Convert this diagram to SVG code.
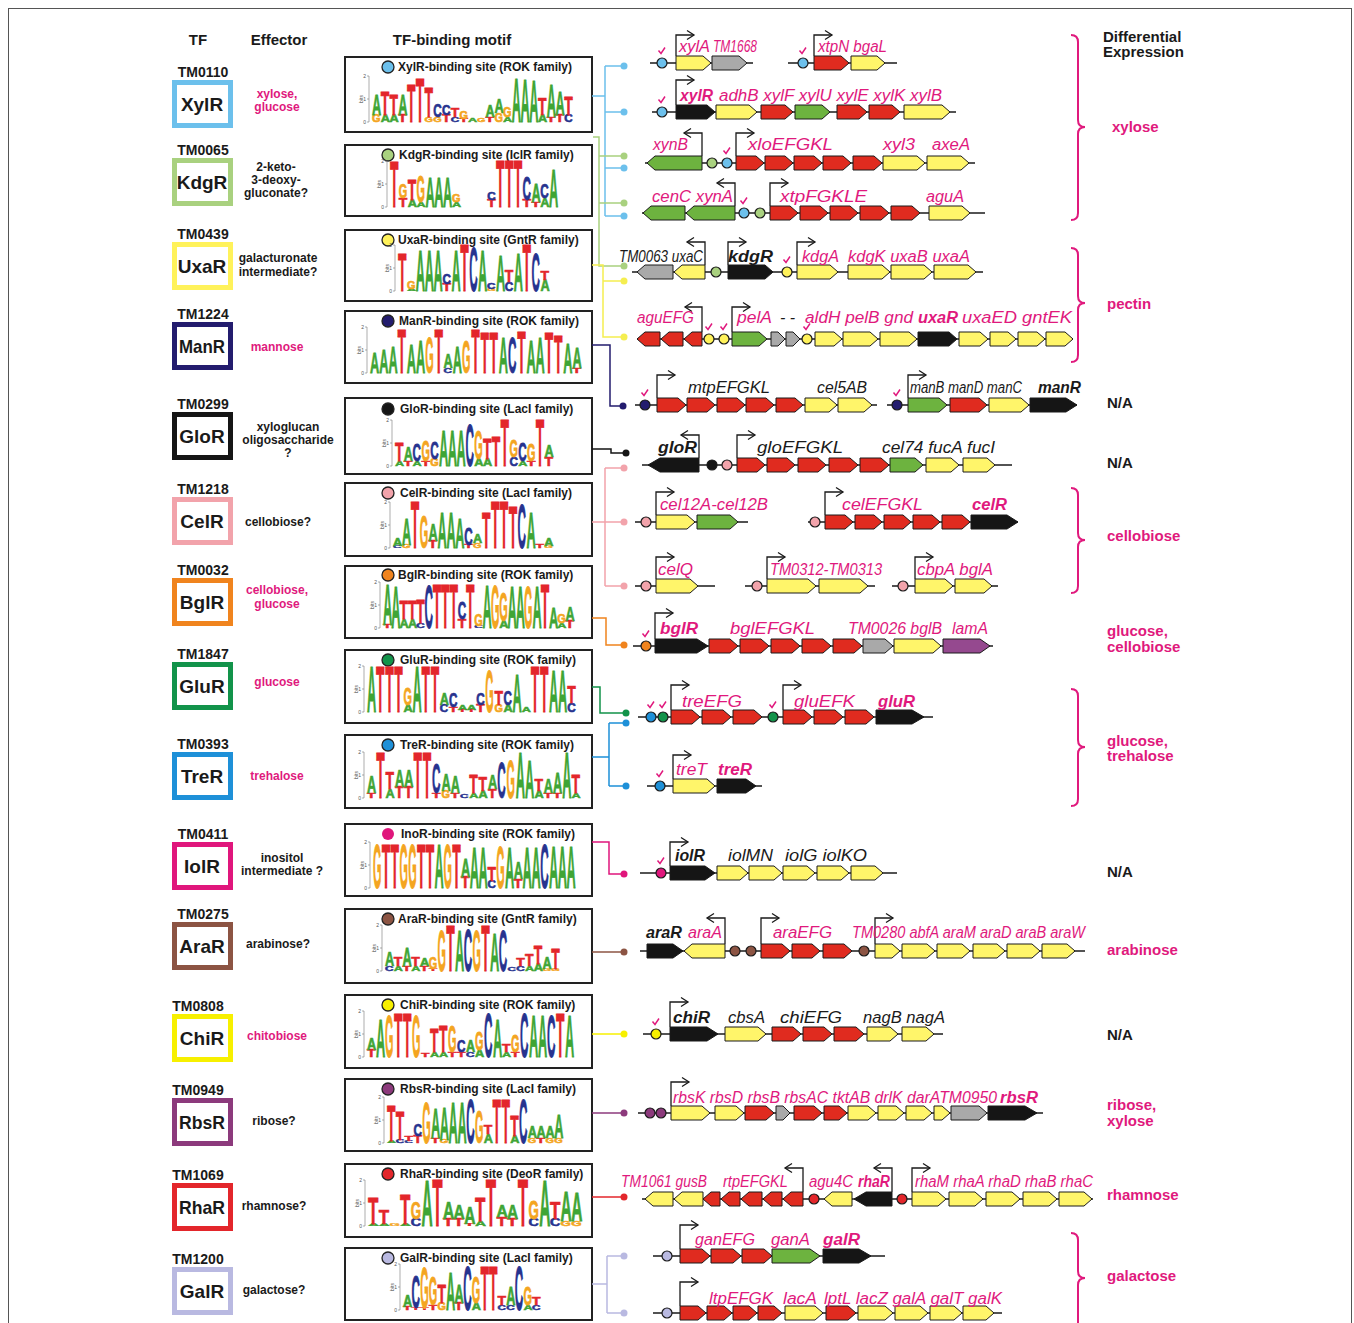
<svg xmlns="http://www.w3.org/2000/svg" xmlns:xlink="http://www.w3.org/1999/xlink" width="1354" height="1323" viewBox="0 0 1354 1323">
<style>
text{font-family:"Liberation Sans",Arial,sans-serif}
.hd{font-size:15px;font-weight:bold;fill:#1a1a1a}
.tm{font-size:14px;font-weight:bold;text-anchor:middle;fill:#1a1a1a}
.nm{font-size:19px;font-weight:bold;text-anchor:middle;fill:#1a1a1a}
.ef{font-size:12px;font-weight:bold;text-anchor:middle;fill:#1a1a1a}
.efm{fill:#e0197d}
.tfb{fill:#fff;stroke-width:5}
.mb{fill:#fff;stroke:#222;stroke-width:2}
.mt{font-size:12px;font-weight:bold;fill:#1a1a1a}
.mc{stroke:#222;stroke-width:1.3}
.lg text{font-size:14.5px;font-weight:bold;stroke-width:.6;vector-effect:non-scaling-stroke}
.a{fill:#3fa535;stroke:#3fa535}.c{fill:#27338f;stroke:#27338f}.g{fill:#f4a521;stroke:#f4a521}.t{fill:#e3262b;stroke:#e3262b}
.ax{stroke:#777;stroke-width:.6;fill:none}
.axt{font-size:5px;fill:#555;text-anchor:end}
.dna{stroke:#1a1a1a;stroke-width:1.5;fill:none}
polygon{stroke:#1a1a1a;stroke-width:1}
.fr{fill:#e02b1f}.fy{fill:#fff56a}.fg{fill:#6db33f}.fk{fill:#151515}.fs{fill:#a9a9a9}.fp{fill:#95498f}
.pr{stroke:#1a1a1a;stroke-width:1.3;fill:none;marker-end:url(#pa)}
.bs{stroke:#1a1a1a;stroke-width:1.2}
.ck{stroke:#e0197d;stroke-width:1.5;fill:none}
.gl{font-size:16px;font-style:italic;fill:#e0197d}
.glk{fill:#1a1a1a}
.b{font-weight:bold}
.cn{fill:none;stroke-width:1.5}
.de{font-size:15px;font-weight:bold;fill:#e0197d}
.na{fill:#1a1a1a}
.br{fill:none;stroke:#e0197d;stroke-width:2}
</style>
<defs>
<marker id="pa" markerUnits="userSpaceOnUse" markerWidth="10" markerHeight="10" refX="7" refY="4.5" orient="auto" overflow="visible"><path d="M0,0 L7,4.5 L0,9" fill="none" stroke="#1a1a1a" stroke-width="1.3"/></marker>
<path id="ck" class="ck" d="M-3.5,-12.5 l2.5,3 l4,-6"/>
<g id="ax"><path class="ax" d="M-3,0 V-46 M-5,0 H-3 M-5,-23 H-3 M-5,-46 H-3"/><text class="axt" x="-6" y="1.5">0</text><text class="axt" x="-6" y="-21.5">1</text><text class="axt" x="-6" y="-44.5">2</text><text class="axt" transform="translate(-9,-23) rotate(-90)" style="text-anchor:middle">bits</text></g>
</defs>
<rect x="0" y="0" width="1354" height="1323" fill="#fff"/>
<rect x="8.5" y="8.5" width="1343" height="1340" fill="none" stroke="#555" stroke-width="1"/>

<g id="headers">
<text class="hd" x="198" y="45" text-anchor="middle">TF</text>
<text class="hd" x="279" y="45" text-anchor="middle">Effector</text>
<text class="hd" x="452" y="45" text-anchor="middle">TF-binding motif</text>
<text class="hd" x="1103" y="42">Differential</text>
<text class="hd" x="1103" y="57">Expression</text>
</g>

<!-- TF nodes -->
<g id="tf-xylr"><text class="tm" x="203" y="77">TM0110</text><rect class="tfb" x="174.5" y="82.5" width="56" height="43" stroke="#6cc0ec"/><text class="nm" x="202" y="111">XylR</text><text class="ef efm" x="277" y="98">xylose,</text><text class="ef efm" x="277" y="111">glucose</text></g>
<g id="tf-kdgr"><text class="tm" x="203" y="155">TM0065</text><rect class="tfb" x="174.5" y="160.5" width="56" height="43" stroke="#a9d17f"/><text class="nm" x="202" y="189">KdgR</text><text class="ef" x="276" y="171">2-keto-</text><text class="ef" x="276" y="184">3-deoxy-</text><text class="ef" x="276" y="197">gluconate?</text></g>
<g id="tf-uxar"><text class="tm" x="203" y="239">TM0439</text><rect class="tfb" x="174.5" y="244.5" width="56" height="43" stroke="#fff25a"/><text class="nm" x="202" y="273">UxaR</text><text class="ef" x="278" y="262">galacturonate</text><text class="ef" x="278" y="276">intermediate?</text></g>
<g id="tf-manr"><text class="tm" x="203" y="319">TM1224</text><rect class="tfb" x="174.5" y="324.5" width="56" height="43" stroke="#231c6e"/><text class="nm" x="202" y="353" textLength="46" lengthAdjust="spacingAndGlyphs">ManR</text><text class="ef efm" x="277" y="351">mannose</text></g>
<g id="tf-glor"><text class="tm" x="203" y="409">TM0299</text><rect class="tfb" x="174.5" y="414.5" width="56" height="43" stroke="#151515"/><text class="nm" x="202" y="443">GloR</text><text class="ef" x="288" y="431">xyloglucan</text><text class="ef" x="288" y="444">oligosaccharide</text><text class="ef" x="288" y="457">?</text></g>
<g id="tf-celr"><text class="tm" x="203" y="494">TM1218</text><rect class="tfb" x="174.5" y="499.5" width="56" height="43" stroke="#f2a3ab"/><text class="nm" x="202" y="528">CelR</text><text class="ef" x="278" y="526">cellobiose?</text></g>
<g id="tf-bglr"><text class="tm" x="203" y="575">TM0032</text><rect class="tfb" x="174.5" y="580.5" width="56" height="43" stroke="#f0841e"/><text class="nm" x="202" y="609">BglR</text><text class="ef efm" x="277" y="594">cellobiose,</text><text class="ef efm" x="277" y="608">glucose</text></g>
<g id="tf-glur"><text class="tm" x="203" y="659">TM1847</text><rect class="tfb" x="174.5" y="664.5" width="56" height="43" stroke="#12934a"/><text class="nm" x="202" y="693">GluR</text><text class="ef efm" x="277" y="686">glucose</text></g>
<g id="tf-trer"><text class="tm" x="203" y="749">TM0393</text><rect class="tfb" x="174.5" y="754.5" width="56" height="43" stroke="#1e90d8"/><text class="nm" x="202" y="783">TreR</text><text class="ef efm" x="277" y="780">trehalose</text></g>
<g id="tf-iolr"><text class="tm" x="203" y="839">TM0411</text><rect class="tfb" x="174.5" y="844.5" width="56" height="43" stroke="#e0167c"/><text class="nm" x="202" y="873">IolR</text><text class="ef" x="282" y="862">inositol</text><text class="ef" x="282" y="875">intermediate ?</text></g>
<g id="tf-arar"><text class="tm" x="203" y="919">TM0275</text><rect class="tfb" x="174.5" y="924.5" width="56" height="43" stroke="#8c5443"/><text class="nm" x="202" y="953">AraR</text><text class="ef" x="278" y="948">arabinose?</text></g>
<g id="tf-chir"><text class="tm" x="198" y="1011">TM0808</text><rect class="tfb" x="174.5" y="1016.5" width="56" height="43" stroke="#f7f000"/><text class="nm" x="202" y="1045">ChiR</text><text class="ef efm" x="277" y="1040">chitobiose</text></g>
<g id="tf-rbsr"><text class="tm" x="198" y="1095">TM0949</text><rect class="tfb" x="174.5" y="1100.5" width="56" height="43" stroke="#8c3a7c"/><text class="nm" x="202" y="1129" textLength="46" lengthAdjust="spacingAndGlyphs">RbsR</text><text class="ef" x="274" y="1125">ribose?</text></g>
<g id="tf-rhar"><text class="tm" x="198" y="1180">TM1069</text><rect class="tfb" x="174.5" y="1185.5" width="56" height="43" stroke="#e3262b"/><text class="nm" x="202" y="1214" textLength="46" lengthAdjust="spacingAndGlyphs">RhaR</text><text class="ef" x="274" y="1210">rhamnose?</text></g>
<g id="tf-galr"><text class="tm" x="198" y="1264">TM1200</text><rect class="tfb" x="174.5" y="1269.5" width="56" height="43" stroke="#b9b9e1"/><text class="nm" x="202" y="1298">GalR</text><text class="ef" x="274" y="1294">galactose?</text></g>

<!-- Motif nodes -->
<g id="motif-xylr"><rect class="mb" x="345" y="57" width="247" height="75"/><circle class="mc" cx="388" cy="67" r="6" fill="#6cc0ec"/><text class="mt" x="398" y="71">XylR-binding site (ROK family)</text>
<g class="lg" transform="translate(372,122)"><use href="#ax"/>
<text class="g" transform="matrix(.75 0 0 .69 0 0)">G</text><text class="a" transform="matrix(.88 0 0 2.07 0 -6.9)">A</text>
<text class="a" transform="matrix(.88 0 0 .69 8.7 0)">A</text><text class="t" transform="matrix(.96 0 0 2.3 8.7 -6.9)">T</text>
<text class="a" transform="matrix(.88 0 0 .69 17.5 0)">A</text><text class="t" transform="matrix(.96 0 0 2.07 17.5 -6.9)">T</text>
<text class="t" transform="matrix(.96 0 0 .69 26.2 0)">T</text><text class="a" transform="matrix(.88 0 0 2.07 26.2 -6.9)">A</text>
<text class="t" transform="matrix(.96 0 0 3.68 35 0)">T</text>
<text class="t" transform="matrix(.96 0 0 4.37 43.7 0)">T</text>
<text class="g" transform="matrix(.75 0 0 .46 52.4 0)">G</text><text class="t" transform="matrix(.96 0 0 2.99 52.4 -4.6)">T</text>
<text class="g" transform="matrix(.75 0 0 .46 61.2 0)">G</text><text class="c" transform="matrix(.81 0 0 1.27 61.2 -4.6)">C</text>
<text class="t" transform="matrix(.96 0 0 .69 69.9 0)">T</text><text class="c" transform="matrix(.81 0 0 1.04 69.9 -6.9)">C</text>
<text class="c" transform="matrix(.81 0 0 .46 78.7 0)">C</text><text class="t" transform="matrix(.96 0 0 .92 78.7 -4.6)">T</text>
<text class="t" transform="matrix(.96 0 0 .35 87.4 0)">T</text><text class="g" transform="matrix(.75 0 0 .69 87.4 -3.5)">G</text>
<text class="a" transform="matrix(.88 0 0 .35 96.1 0)">A</text>
<text class="g" transform="matrix(.75 0 0 .35 104.9 0)">G</text>
<text class="t" transform="matrix(.96 0 0 .46 113.6 0)">T</text><text class="a" transform="matrix(.88 0 0 1.15 113.6 -4.6)">A</text>
<text class="g" transform="matrix(.75 0 0 .92 122.4 0)">G</text><text class="a" transform="matrix(.88 0 0 1.38 122.4 -9.2)">A</text>
<text class="a" transform="matrix(.88 0 0 .46 131.1 0)">A</text><text class="g" transform="matrix(.75 0 0 1.04 131.1 -4.6)">G</text>
<text class="a" transform="matrix(.88 0 0 4.37 139.8 0)">A</text>
<text class="a" transform="matrix(.88 0 0 4.26 148.6 0)">A</text>
<text class="a" transform="matrix(.88 0 0 4.14 157.3 0)">A</text>
<text class="a" transform="matrix(.88 0 0 .69 166.1 0)">A</text><text class="t" transform="matrix(.96 0 0 1.61 166.1 -6.9)">T</text>
<text class="t" transform="matrix(.96 0 0 .46 174.8 0)">T</text><text class="a" transform="matrix(.88 0 0 3.22 174.8 -4.6)">A</text>
<text class="t" transform="matrix(.96 0 0 .69 183.5 0)">T</text><text class="a" transform="matrix(.88 0 0 2.3 183.5 -6.9)">A</text>
<text class="c" transform="matrix(.81 0 0 .69 192.3 0)">C</text><text class="t" transform="matrix(.96 0 0 1.84 192.3 -6.9)">T</text>
</g></g>

<g id="motif-kdgr"><rect class="mb" x="345" y="145" width="247" height="71"/><circle class="mc" cx="388" cy="155" r="6" fill="#a9d17f"/><text class="mt" x="399" y="159">KdgR-binding site (IclR family)</text>
<g class="lg" transform="translate(390,207)"><use href="#ax"/>
<text class="t" transform="matrix(.96 0 0 4.49 0 0)">T</text>
<text class="t" transform="matrix(.96 0 0 .92 8.8 0)">T</text><text class="g" transform="matrix(.75 0 0 1.38 8.8 -9.2)">G</text>
<text class="a" transform="matrix(.88 0 0 .69 17.7 0)">A</text><text class="t" transform="matrix(.96 0 0 2.07 17.7 -6.9)">T</text>
<text class="a" transform="matrix(.88 0 0 .46 26.5 0)">A</text><text class="g" transform="matrix(.75 0 0 2.53 26.5 -4.6)">G</text>
<text class="a" transform="matrix(.88 0 0 2.99 35.4 0)">A</text>
<text class="a" transform="matrix(.88 0 0 2.99 44.2 0)">A</text>
<text class="a" transform="matrix(.88 0 0 2.99 53 0)">A</text>
<text class="a" transform="matrix(.88 0 0 .46 61.9 0)">A</text><text class="g" transform="matrix(.75 0 0 .69 61.9 -4.6)">G</text>
<text class="t" transform="matrix(.96 0 0 .69 97.2 0)">T</text><text class="c" transform="matrix(.81 0 0 .69 97.2 -6.9)">C</text>
<text class="t" transform="matrix(.96 0 0 4.6 106.1 0)">T</text>
<text class="t" transform="matrix(.96 0 0 4.6 114.9 0)">T</text>
<text class="t" transform="matrix(.96 0 0 4.6 123.8 0)">T</text>
<text class="t" transform="matrix(.96 0 0 .69 132.6 0)">T</text><text class="c" transform="matrix(.81 0 0 2.3 132.6 -6.9)">C</text>
<text class="t" transform="matrix(.96 0 0 .46 141.4 0)">T</text><text class="a" transform="matrix(.88 0 0 1.84 141.4 -4.6)">A</text>
<text class="a" transform="matrix(.88 0 0 .92 150.3 0)">A</text><text class="c" transform="matrix(.81 0 0 1.38 150.3 -9.2)">C</text>
<text class="a" transform="matrix(.88 0 0 3.68 159.1 0)">A</text>
</g></g>

<g id="motif-uxar"><rect class="mb" x="345" y="230" width="247" height="71"/><circle class="mc" cx="388" cy="240" r="6" fill="#fff25a"/><text class="mt" x="398" y="244">UxaR-binding site (GntR family)</text>
<g class="lg" transform="translate(398,291)"><use href="#ax"/>
<text class="t" transform="matrix(.96 0 0 3.68 0 0)">T</text>
<text class="a" transform="matrix(.88 0 0 .23 8.9 0)">A</text><text class="g" transform="matrix(.75 0 0 .81 8.9 -2.3)">G</text>
<text class="a" transform="matrix(.88 0 0 3.91 17.8 0)">A</text>
<text class="a" transform="matrix(.88 0 0 3.91 26.7 0)">A</text>
<text class="a" transform="matrix(.88 0 0 3.91 35.6 0)">A</text>
<text class="t" transform="matrix(.96 0 0 .69 44.5 0)">T</text><text class="c" transform="matrix(.81 0 0 1.04 44.5 -6.9)">C</text>
<text class="a" transform="matrix(.88 0 0 3.91 53.4 0)">A</text>
<text class="t" transform="matrix(.96 0 0 4.6 62.3 0)">T</text>
<text class="c" transform="matrix(.81 0 0 4.37 71.2 0)">C</text>
<text class="a" transform="matrix(.88 0 0 3.91 80.1 0)">A</text>
<text class="g" transform="matrix(.75 0 0 .23 89 0)">G</text><text class="c" transform="matrix(.81 0 0 .58 89 -2.3)">C</text>
<text class="a" transform="matrix(.88 0 0 3.45 97.9 0)">A</text>
<text class="c" transform="matrix(.81 0 0 .92 106.8 0)">C</text><text class="t" transform="matrix(.96 0 0 1.15 106.8 -9.2)">T</text>
<text class="a" transform="matrix(.88 0 0 3.68 115.7 0)">A</text>
<text class="t" transform="matrix(.96 0 0 4.6 124.6 0)">T</text>
<text class="c" transform="matrix(.81 0 0 3.68 133.5 0)">C</text>
<text class="a" transform="matrix(.88 0 0 1.15 142.4 0)">A</text><text class="t" transform="matrix(.96 0 0 .92 142.4 -11.5)">T</text>
</g></g>

<g id="motif-manr"><rect class="mb" x="345" y="311" width="247" height="72"/><circle class="mc" cx="388" cy="321" r="6" fill="#231c6e"/><text class="mt" x="399" y="325">ManR-binding site (ROK family)</text>
<g class="lg" transform="translate(370,373)"><use href="#ax"/>
<text class="a" transform="matrix(.88 0 0 2.07 0 0)">A</text>
<text class="a" transform="matrix(.88 0 0 2.3 9.2 0)">A</text>
<text class="a" transform="matrix(.88 0 0 2.53 18.4 0)">A</text>
<text class="t" transform="matrix(.96 0 0 4.37 27.6 0)">T</text>
<text class="a" transform="matrix(.88 0 0 2.76 36.8 0)">A</text>
<text class="a" transform="matrix(.88 0 0 3.22 46 0)">A</text>
<text class="g" transform="matrix(.75 0 0 3.45 55.2 0)">G</text>
<text class="t" transform="matrix(.96 0 0 4.37 64.4 0)">T</text>
<text class="c" transform="matrix(.81 0 0 .46 73.6 0)">C</text><text class="a" transform="matrix(.88 0 0 1.38 73.6 -4.6)">A</text>
<text class="a" transform="matrix(.88 0 0 2.53 82.8 0)">A</text>
<text class="g" transform="matrix(.75 0 0 3.22 92 0)">G</text>
<text class="t" transform="matrix(.96 0 0 4.37 101.2 0)">T</text>
<text class="t" transform="matrix(.96 0 0 3.91 110.4 0)">T</text>
<text class="t" transform="matrix(.96 0 0 3.91 119.6 0)">T</text>
<text class="a" transform="matrix(.88 0 0 3.45 128.8 0)">A</text>
<text class="c" transform="matrix(.81 0 0 3.45 138 0)">C</text>
<text class="t" transform="matrix(.96 0 0 4.14 147.2 0)">T</text>
<text class="a" transform="matrix(.88 0 0 3.22 156.4 0)">A</text>
<text class="a" transform="matrix(.88 0 0 3.45 165.6 0)">A</text>
<text class="t" transform="matrix(.96 0 0 3.91 174.8 0)">T</text>
<text class="t" transform="matrix(.96 0 0 3.68 184 0)">T</text>
<text class="a" transform="matrix(.88 0 0 2.99 193.2 0)">A</text>
<text class="t" transform="matrix(.96 0 0 .46 202.4 0)">T</text><text class="a" transform="matrix(.88 0 0 2.07 202.4 -4.6)">A</text>
</g></g>

<g id="motif-glor"><rect class="mb" x="345" y="398" width="247" height="76"/><circle class="mc" cx="388" cy="409" r="6" fill="#151515"/><text class="mt" x="400" y="413">GloR-binding site (LacI family)</text>
<g class="lg" transform="translate(395,466)"><use href="#ax"/>
<text class="a" transform="matrix(.88 0 0 .46 0 0)">A</text><text class="t" transform="matrix(.96 0 0 1.84 0 -4.6)">T</text>
<text class="t" transform="matrix(.96 0 0 .46 8.8 0)">T</text><text class="a" transform="matrix(.88 0 0 1.38 8.8 -4.6)">A</text>
<text class="a" transform="matrix(.88 0 0 .46 17.6 0)">A</text><text class="c" transform="matrix(.81 0 0 1.61 17.6 -4.6)">C</text>
<text class="t" transform="matrix(.96 0 0 .46 26.4 0)">T</text><text class="g" transform="matrix(.75 0 0 2.07 26.4 -4.6)">G</text>
<text class="g" transform="matrix(.75 0 0 .69 35.2 0)">G</text><text class="c" transform="matrix(.81 0 0 1.61 35.2 -6.9)">C</text>
<text class="a" transform="matrix(.88 0 0 3.45 44 0)">A</text>
<text class="a" transform="matrix(.88 0 0 3.45 52.8 0)">A</text>
<text class="a" transform="matrix(.88 0 0 3.45 61.6 0)">A</text>
<text class="c" transform="matrix(.81 0 0 4.14 70.4 0)">C</text>
<text class="a" transform="matrix(.88 0 0 .69 79.2 0)">A</text><text class="g" transform="matrix(.75 0 0 2.76 79.2 -6.9)">G</text>
<text class="a" transform="matrix(.88 0 0 .69 88 0)">A</text><text class="t" transform="matrix(.96 0 0 2.07 88 -6.9)">T</text>
<text class="t" transform="matrix(.96 0 0 2.99 96.8 0)">T</text>
<text class="t" transform="matrix(.96 0 0 4.6 105.6 0)">T</text>
<text class="c" transform="matrix(.81 0 0 .92 114.4 0)">C</text><text class="g" transform="matrix(.75 0 0 1.61 114.4 -9.2)">G</text>
<text class="a" transform="matrix(.88 0 0 .46 123.2 0)">A</text><text class="c" transform="matrix(.81 0 0 1.84 123.2 -4.6)">C</text>
<text class="t" transform="matrix(.96 0 0 .46 132 0)">T</text><text class="g" transform="matrix(.75 0 0 1.61 132 -4.6)">G</text>
<text class="t" transform="matrix(.96 0 0 4.6 140.8 0)">T</text>
<text class="t" transform="matrix(.96 0 0 .92 149.6 0)">T</text><text class="a" transform="matrix(.88 0 0 1.15 149.6 -9.2)">A</text>
</g></g>

<g id="motif-celr"><rect class="mb" x="345" y="483" width="247" height="73"/><circle class="mc" cx="388" cy="493" r="6" fill="#f2a3ab"/><text class="mt" x="400" y="497">CelR-binding site (LacI family)</text>
<g class="lg" transform="translate(393,548)"><use href="#ax"/>
<text class="c" transform="matrix(.81 0 0 .23 0 0)">C</text><text class="a" transform="matrix(.88 0 0 .69 0 -2.3)">A</text>
<text class="g" transform="matrix(.75 0 0 .35 8.9 0)">G</text><text class="a" transform="matrix(.88 0 0 2.53 8.9 -3.5)">A</text>
<text class="t" transform="matrix(.96 0 0 4.6 17.8 0)">T</text>
<text class="g" transform="matrix(.75 0 0 3.22 26.7 0)">G</text>
<text class="t" transform="matrix(.96 0 0 .69 35.6 0)">T</text><text class="a" transform="matrix(.88 0 0 1.61 35.6 -6.9)">A</text>
<text class="a" transform="matrix(.88 0 0 3.45 44.5 0)">A</text>
<text class="a" transform="matrix(.88 0 0 3.45 53.4 0)">A</text>
<text class="a" transform="matrix(.88 0 0 2.99 62.3 0)">A</text>
<text class="t" transform="matrix(.96 0 0 .35 71.2 0)">T</text><text class="c" transform="matrix(.81 0 0 1.61 71.2 -3.5)">C</text>
<text class="g" transform="matrix(.75 0 0 .46 80.1 0)">G</text><text class="a" transform="matrix(.88 0 0 .92 80.1 -4.6)">A</text>
<text class="t" transform="matrix(.96 0 0 3.45 89 0)">T</text>
<text class="t" transform="matrix(.96 0 0 4.6 97.9 0)">T</text>
<text class="t" transform="matrix(.96 0 0 4.6 106.8 0)">T</text>
<text class="t" transform="matrix(.96 0 0 4.14 115.7 0)">T</text>
<text class="c" transform="matrix(.81 0 0 4.37 124.6 0)">C</text>
<text class="a" transform="matrix(.88 0 0 3.45 133.5 0)">A</text>
<text class="t" transform="matrix(.96 0 0 .35 142.4 0)">T</text>
<text class="g" transform="matrix(.75 0 0 .23 151.3 0)">G</text><text class="a" transform="matrix(.88 0 0 .69 151.3 -2.3)">A</text>
</g></g>

<g id="motif-bglr"><rect class="mb" x="345" y="566" width="247" height="72"/><circle class="mc" cx="388" cy="575" r="6" fill="#f0841e"/><text class="mt" x="398" y="579">BglR-binding site (ROK family)</text>
<g class="lg" transform="translate(383,628)"><use href="#ax"/>
<text class="t" transform="matrix(.96 0 0 .35 0 0)">T</text><text class="a" transform="matrix(.88 0 0 3.91 0 -3.5)">A</text>
<text class="a" transform="matrix(.88 0 0 4.14 8.3 0)">A</text>
<text class="a" transform="matrix(.88 0 0 .92 16.6 0)">A</text><text class="t" transform="matrix(.96 0 0 1.84 16.6 -9.2)">T</text>
<text class="a" transform="matrix(.88 0 0 .92 24.9 0)">A</text><text class="t" transform="matrix(.96 0 0 1.84 24.9 -9.2)">T</text>
<text class="c" transform="matrix(.81 0 0 .46 33.2 0)">C</text><text class="t" transform="matrix(.96 0 0 2.3 33.2 -4.6)">T</text>
<text class="c" transform="matrix(.81 0 0 4.2 41.5 0)">C</text>
<text class="t" transform="matrix(.96 0 0 4.4 49.8 0)">T</text>
<text class="t" transform="matrix(.96 0 0 4.4 58.1 0)">T</text>
<text class="t" transform="matrix(.96 0 0 4.4 66.4 0)">T</text>
<text class="t" transform="matrix(.96 0 0 .92 74.7 0)">T</text><text class="c" transform="matrix(.81 0 0 1.61 74.7 -9.2)">C</text>
<text class="t" transform="matrix(.96 0 0 4.4 83 0)">T</text>
<text class="c" transform="matrix(.81 0 0 .23 91.3 0)">C</text><text class="g" transform="matrix(.75 0 0 1.15 91.3 -2.3)">G</text>
<text class="a" transform="matrix(.88 0 0 4.2 99.6 0)">A</text>
<text class="g" transform="matrix(.75 0 0 4.2 107.9 0)">G</text>
<text class="a" transform="matrix(.88 0 0 .69 116.2 0)">A</text><text class="g" transform="matrix(.75 0 0 2.76 116.2 -6.9)">G</text>
<text class="a" transform="matrix(.88 0 0 4.14 124.5 0)">A</text>
<text class="a" transform="matrix(.88 0 0 4.14 132.8 0)">A</text>
<text class="g" transform="matrix(.75 0 0 4.14 141.1 0)">G</text>
<text class="a" transform="matrix(.88 0 0 4.14 149.4 0)">A</text>
<text class="t" transform="matrix(.96 0 0 4.4 157.7 0)">T</text>
<text class="a" transform="matrix(.88 0 0 2.07 166 0)">A</text>
<text class="a" transform="matrix(.88 0 0 .46 174.3 0)">A</text><text class="g" transform="matrix(.75 0 0 .92 174.3 -4.6)">G</text>
<text class="t" transform="matrix(.96 0 0 .69 182.6 0)">T</text><text class="a" transform="matrix(.88 0 0 1.38 182.6 -6.9)">A</text>
</g></g>

<g id="motif-glur"><rect class="mb" x="345" y="650" width="247" height="73"/><circle class="mc" cx="388" cy="660" r="6" fill="#12934a"/><text class="mt" x="400" y="664">GluR-binding site (ROK family)</text>
<g class="lg" transform="translate(367,712)"><use href="#ax"/>
<text class="a" transform="matrix(.88 0 0 4.5 0 0)">A</text>
<text class="t" transform="matrix(.96 0 0 4.5 9.1 0)">T</text>
<text class="t" transform="matrix(.96 0 0 4.5 18.2 0)">T</text>
<text class="t" transform="matrix(.96 0 0 4.5 27.3 0)">T</text>
<text class="a" transform="matrix(.88 0 0 .69 36.4 0)">A</text><text class="g" transform="matrix(.75 0 0 1.61 36.4 -6.9)">G</text>
<text class="a" transform="matrix(.88 0 0 4.5 45.5 0)">A</text>
<text class="t" transform="matrix(.96 0 0 4.5 54.6 0)">T</text>
<text class="t" transform="matrix(.96 0 0 4.5 63.7 0)">T</text>
<text class="c" transform="matrix(.81 0 0 .69 72.8 0)">C</text><text class="a" transform="matrix(.88 0 0 1.15 72.8 -6.9)">A</text>
<text class="t" transform="matrix(.96 0 0 .46 81.9 0)">T</text><text class="c" transform="matrix(.81 0 0 1.38 81.9 -4.6)">C</text>
<text class="t" transform="matrix(.96 0 0 .23 91 0)">T</text><text class="a" transform="matrix(.88 0 0 .46 91 -2.3)">A</text>
<text class="t" transform="matrix(.96 0 0 .23 100.1 0)">T</text><text class="a" transform="matrix(.88 0 0 .46 100.1 -2.3)">A</text>
<text class="t" transform="matrix(.96 0 0 .69 109.2 0)">T</text><text class="c" transform="matrix(.81 0 0 1.15 109.2 -6.9)">C</text>
<text class="g" transform="matrix(.75 0 0 4.14 118.3 0)">G</text>
<text class="g" transform="matrix(.75 0 0 .69 127.4 0)">G</text><text class="t" transform="matrix(.96 0 0 1.38 127.4 -6.9)">T</text>
<text class="a" transform="matrix(.88 0 0 .69 136.5 0)">A</text><text class="c" transform="matrix(.81 0 0 1.38 136.5 -6.9)">C</text>
<text class="a" transform="matrix(.88 0 0 3.68 145.6 0)">A</text>
<text class="a" transform="matrix(.88 0 0 .46 154.7 0)">A</text>
<text class="t" transform="matrix(.96 0 0 4.5 163.8 0)">T</text>
<text class="t" transform="matrix(.96 0 0 4.5 172.9 0)">T</text>
<text class="a" transform="matrix(.88 0 0 4.14 182 0)">A</text>
<text class="a" transform="matrix(.88 0 0 4.14 191.1 0)">A</text>
<text class="c" transform="matrix(.81 0 0 .92 200.2 0)">C</text><text class="t" transform="matrix(.96 0 0 1.61 200.2 -9.2)">T</text>
</g></g>

<g id="motif-trer"><rect class="mb" x="345" y="735" width="247" height="73"/><circle class="mc" cx="388" cy="745" r="6" fill="#1e90d8"/><text class="mt" x="400" y="749">TreR-binding site (ROK family)</text>
<g class="lg" transform="translate(367,798)"><use href="#ax"/>
<text class="t" transform="matrix(.96 0 0 .46 0 0)">T</text><text class="a" transform="matrix(.88 0 0 1.61 0 -4.6)">A</text>
<text class="t" transform="matrix(.96 0 0 4.5 9.3 0)">T</text>
<text class="a" transform="matrix(.88 0 0 .92 18.6 0)">A</text><text class="t" transform="matrix(.96 0 0 1.61 18.6 -9.2)">T</text>
<text class="t" transform="matrix(.96 0 0 1.15 27.9 0)">T</text><text class="a" transform="matrix(.88 0 0 1.61 27.9 -11.5)">A</text>
<text class="t" transform="matrix(.96 0 0 1.15 37.2 0)">T</text><text class="a" transform="matrix(.88 0 0 1.61 37.2 -11.5)">A</text>
<text class="t" transform="matrix(.96 0 0 4.5 46.5 0)">T</text>
<text class="t" transform="matrix(.96 0 0 4.5 55.8 0)">T</text>
<text class="t" transform="matrix(.96 0 0 .46 65.1 0)">T</text><text class="c" transform="matrix(.81 0 0 2.99 65.1 -4.6)">C</text>
<text class="g" transform="matrix(.75 0 0 .69 74.4 0)">G</text><text class="a" transform="matrix(.88 0 0 1.61 74.4 -6.9)">A</text>
<text class="t" transform="matrix(.96 0 0 .46 83.7 0)">T</text><text class="a" transform="matrix(.88 0 0 1.61 83.7 -4.6)">A</text>
<text class="c" transform="matrix(.81 0 0 .35 93 0)">C</text>
<text class="a" transform="matrix(.88 0 0 .46 102.3 0)">A</text><text class="t" transform="matrix(.96 0 0 1.84 102.3 -4.6)">T</text>
<text class="a" transform="matrix(.88 0 0 .69 111.6 0)">A</text><text class="t" transform="matrix(.96 0 0 1.38 111.6 -6.9)">T</text>
<text class="t" transform="matrix(.96 0 0 .92 120.9 0)">T</text><text class="a" transform="matrix(.88 0 0 1.38 120.9 -9.2)">A</text>
<text class="c" transform="matrix(.81 0 0 3.45 130.2 0)">C</text>
<text class="g" transform="matrix(.75 0 0 3.68 139.5 0)">G</text>
<text class="a" transform="matrix(.88 0 0 4.5 148.8 0)">A</text>
<text class="a" transform="matrix(.88 0 0 3.68 158.1 0)">A</text>
<text class="a" transform="matrix(.88 0 0 .69 167.4 0)">A</text><text class="t" transform="matrix(.96 0 0 1.15 167.4 -6.9)">T</text>
<text class="t" transform="matrix(.96 0 0 .46 176.7 0)">T</text><text class="a" transform="matrix(.88 0 0 1.38 176.7 -4.6)">A</text>
<text class="t" transform="matrix(.96 0 0 .46 186 0)">T</text><text class="a" transform="matrix(.88 0 0 2.07 186 -4.6)">A</text>
<text class="a" transform="matrix(.88 0 0 4.5 195.3 0)">A</text>
<text class="a" transform="matrix(.88 0 0 .46 204.6 0)">A</text><text class="t" transform="matrix(.96 0 0 1.84 204.6 -4.6)">T</text>
</g></g>

<g id="motif-iolr"><rect class="mb" x="345" y="824" width="247" height="72"/><circle cx="388" cy="834" r="6" fill="#e0167c"/><text class="mt" x="401" y="838">InoR-binding site (ROK family)</text>
<g class="lg" transform="translate(373,888)"><use href="#ax"/>
<text class="g" transform="matrix(.75 0 0 4.3 0 0)">G</text>
<text class="t" transform="matrix(.96 0 0 4.4 8.8 0)">T</text>
<text class="t" transform="matrix(.96 0 0 4.4 17.6 0)">T</text>
<text class="g" transform="matrix(.75 0 0 4.3 26.4 0)">G</text>
<text class="g" transform="matrix(.75 0 0 4.3 35.2 0)">G</text>
<text class="t" transform="matrix(.96 0 0 4.4 44 0)">T</text>
<text class="t" transform="matrix(.96 0 0 4.4 52.8 0)">T</text>
<text class="a" transform="matrix(.88 0 0 4.3 61.6 0)">A</text>
<text class="g" transform="matrix(.75 0 0 4.3 70.4 0)">G</text>
<text class="t" transform="matrix(.96 0 0 4.4 79.2 0)">T</text>
<text class="t" transform="matrix(.96 0 0 1.15 88 0)">T</text><text class="a" transform="matrix(.88 0 0 1.84 88 -11.5)">A</text>
<text class="a" transform="matrix(.88 0 0 3.91 96.8 0)">A</text>
<text class="a" transform="matrix(.88 0 0 3.91 105.6 0)">A</text>
<text class="c" transform="matrix(.81 0 0 .69 114.4 0)">C</text><text class="t" transform="matrix(.96 0 0 1.38 114.4 -6.9)">T</text>
<text class="g" transform="matrix(.75 0 0 4.14 123.2 0)">G</text>
<text class="a" transform="matrix(.88 0 0 3.91 132 0)">A</text>
<text class="t" transform="matrix(.96 0 0 .92 140.8 0)">T</text><text class="a" transform="matrix(.88 0 0 1.61 140.8 -9.2)">A</text>
<text class="a" transform="matrix(.88 0 0 3.91 149.6 0)">A</text>
<text class="a" transform="matrix(.88 0 0 3.91 158.4 0)">A</text>
<text class="c" transform="matrix(.81 0 0 4.3 167.2 0)">C</text>
<text class="a" transform="matrix(.88 0 0 4.14 176 0)">A</text>
<text class="a" transform="matrix(.88 0 0 4.14 184.8 0)">A</text>
<text class="a" transform="matrix(.88 0 0 4.14 193.6 0)">A</text>
</g></g>

<g id="motif-arar"><rect class="mb" x="345" y="909" width="247" height="74"/><circle class="mc" cx="388" cy="919" r="6" fill="#8c5443"/><text class="mt" x="398" y="923">AraR-binding site (GntR family)</text>
<g class="lg" transform="translate(385,971)"><use href="#ax"/>
<text class="c" transform="matrix(.81 0 0 .46 0 0)">C</text><text class="a" transform="matrix(.88 0 0 1.38 0 -4.6)">A</text>
<text class="a" transform="matrix(.88 0 0 .46 8.75 0)">A</text><text class="t" transform="matrix(.96 0 0 .92 8.75 -4.6)">T</text>
<text class="t" transform="matrix(.96 0 0 .46 17.5 0)">T</text><text class="a" transform="matrix(.88 0 0 1.84 17.5 -4.6)">A</text>
<text class="a" transform="matrix(.88 0 0 .46 26.25 0)">A</text><text class="t" transform="matrix(.96 0 0 .92 26.25 -4.6)">T</text>
<text class="t" transform="matrix(.96 0 0 .46 35 0)">T</text><text class="a" transform="matrix(.88 0 0 .69 35 -4.6)">A</text>
<text class="t" transform="matrix(.96 0 0 .23 43.75 0)">T</text><text class="g" transform="matrix(.75 0 0 1.15 43.75 -2.3)">G</text>
<text class="g" transform="matrix(.75 0 0 3.91 52.5 0)">G</text>
<text class="t" transform="matrix(.96 0 0 4.5 61.25 0)">T</text>
<text class="a" transform="matrix(.88 0 0 3.91 70 0)">A</text>
<text class="c" transform="matrix(.81 0 0 4.14 78.75 0)">C</text>
<text class="g" transform="matrix(.75 0 0 3.91 87.5 0)">G</text>
<text class="t" transform="matrix(.96 0 0 4.5 96.25 0)">T</text>
<text class="a" transform="matrix(.88 0 0 3.68 105 0)">A</text>
<text class="c" transform="matrix(.81 0 0 3.91 113.75 0)">C</text>
<text class="c" transform="matrix(.81 0 0 .35 122.5 0)">C</text>
<text class="c" transform="matrix(.81 0 0 .46 131.25 0)">C</text><text class="t" transform="matrix(.96 0 0 .69 131.25 -4.6)">T</text>
<text class="a" transform="matrix(.88 0 0 .46 140 0)">A</text><text class="t" transform="matrix(.96 0 0 1.15 140 -4.6)">T</text>
<text class="a" transform="matrix(.88 0 0 .69 148.75 0)">A</text><text class="t" transform="matrix(.96 0 0 1.84 148.75 -6.9)">T</text>
<text class="g" transform="matrix(.75 0 0 .23 157.5 0)">G</text><text class="a" transform="matrix(.88 0 0 1.15 157.5 -2.3)">A</text>
<text class="g" transform="matrix(.75 0 0 .23 166.25 0)">G</text><text class="t" transform="matrix(.96 0 0 2.07 166.25 -2.3)">T</text>
</g></g>

<g id="motif-chir"><rect class="mb" x="345" y="995" width="247" height="73"/><circle class="mc" cx="388" cy="1005" r="6" fill="#f7f000"/><text class="mt" x="400" y="1009">ChiR-binding site (ROK family)</text>
<g class="lg" transform="translate(367,1057)"><use href="#ax"/>
<text class="t" transform="matrix(.96 0 0 .69 0 0)">T</text><text class="a" transform="matrix(.88 0 0 1.15 0 -6.9)">A</text>
<text class="a" transform="matrix(.88 0 0 3.68 9 0)">A</text>
<text class="g" transform="matrix(.75 0 0 4.14 18 0)">G</text>
<text class="t" transform="matrix(.96 0 0 4.4 27 0)">T</text>
<text class="t" transform="matrix(.96 0 0 4.4 36 0)">T</text>
<text class="g" transform="matrix(.75 0 0 4.14 45 0)">G</text>
<text class="t" transform="matrix(.96 0 0 .35 54 0)">T</text>
<text class="a" transform="matrix(.88 0 0 .46 63 0)">A</text><text class="t" transform="matrix(.96 0 0 2.3 63 -4.6)">T</text>
<text class="a" transform="matrix(.88 0 0 .46 72 0)">A</text><text class="t" transform="matrix(.96 0 0 2.53 72 -4.6)">T</text>
<text class="t" transform="matrix(.96 0 0 .46 81 0)">T</text><text class="g" transform="matrix(.75 0 0 2.53 81 -4.6)">G</text>
<text class="t" transform="matrix(.96 0 0 .46 90 0)">T</text><text class="c" transform="matrix(.81 0 0 1.15 90 -4.6)">C</text>
<text class="c" transform="matrix(.81 0 0 .46 99 0)">C</text><text class="a" transform="matrix(.88 0 0 1.15 99 -4.6)">A</text>
<text class="a" transform="matrix(.88 0 0 .69 108 0)">A</text><text class="g" transform="matrix(.75 0 0 1.84 108 -6.9)">G</text>
<text class="c" transform="matrix(.81 0 0 4.3 117 0)">C</text>
<text class="a" transform="matrix(.88 0 0 3.68 126 0)">A</text>
<text class="a" transform="matrix(.88 0 0 .46 135 0)">A</text><text class="t" transform="matrix(.96 0 0 .69 135 -4.6)">T</text>
<text class="t" transform="matrix(.96 0 0 .46 144 0)">T</text><text class="g" transform="matrix(.75 0 0 1.61 144 -4.6)">G</text>
<text class="c" transform="matrix(.81 0 0 4.3 153 0)">C</text>
<text class="a" transform="matrix(.88 0 0 4.14 162 0)">A</text>
<text class="a" transform="matrix(.88 0 0 4.14 171 0)">A</text>
<text class="c" transform="matrix(.81 0 0 4.14 180 0)">C</text>
<text class="t" transform="matrix(.96 0 0 4.3 189 0)">T</text>
<text class="a" transform="matrix(.88 0 0 4.14 198 0)">A</text>
</g></g>

<g id="motif-rbsr"><rect class="mb" x="345" y="1079" width="247" height="72"/><circle class="mc" cx="388" cy="1089" r="6" fill="#8c3a7c"/><text class="mt" x="400" y="1093">RbsR-binding site (LacI family)</text>
<g class="lg" transform="translate(387,1143)"><use href="#ax"/>
<text class="a" transform="matrix(.88 0 0 .23 0 0)">A</text><text class="t" transform="matrix(.96 0 0 3.45 0 -2.3)">T</text>
<text class="c" transform="matrix(.81 0 0 .35 8.8 0)">C</text><text class="t" transform="matrix(.96 0 0 2.76 8.8 -3.5)">T</text>
<text class="c" transform="matrix(.81 0 0 .23 17.6 0)">C</text><text class="t" transform="matrix(.96 0 0 .46 17.6 -2.3)">T</text>
<text class="t" transform="matrix(.96 0 0 .69 26.4 0)">T</text><text class="c" transform="matrix(.81 0 0 1.15 26.4 -6.9)">C</text>
<text class="g" transform="matrix(.75 0 0 3.91 35.2 0)">G</text>
<text class="t" transform="matrix(.96 0 0 .46 44 0)">T</text><text class="a" transform="matrix(.88 0 0 2.99 44 -4.6)">A</text>
<text class="g" transform="matrix(.75 0 0 .35 52.8 0)">G</text><text class="a" transform="matrix(.88 0 0 3.22 52.8 -3.5)">A</text>
<text class="a" transform="matrix(.88 0 0 3.91 61.6 0)">A</text>
<text class="a" transform="matrix(.88 0 0 3.91 70.4 0)">A</text>
<text class="c" transform="matrix(.81 0 0 4.4 79.2 0)">C</text>
<text class="g" transform="matrix(.75 0 0 3.22 88 0)">G</text>
<text class="a" transform="matrix(.88 0 0 .92 96.8 0)">A</text><text class="t" transform="matrix(.96 0 0 .92 96.8 -9.2)">T</text>
<text class="t" transform="matrix(.96 0 0 4.4 105.6 0)">T</text>
<text class="t" transform="matrix(.96 0 0 4.4 114.4 0)">T</text>
<text class="a" transform="matrix(.88 0 0 .69 123.2 0)">A</text><text class="t" transform="matrix(.96 0 0 2.07 123.2 -6.9)">T</text>
<text class="c" transform="matrix(.81 0 0 4.4 132 0)">C</text>
<text class="g" transform="matrix(.75 0 0 .46 140.8 0)">G</text><text class="a" transform="matrix(.88 0 0 1.15 140.8 -4.6)">A</text>
<text class="t" transform="matrix(.96 0 0 .46 149.6 0)">T</text><text class="a" transform="matrix(.88 0 0 1.15 149.6 -4.6)">A</text>
<text class="g" transform="matrix(.75 0 0 .46 158.4 0)">G</text><text class="a" transform="matrix(.88 0 0 1.15 158.4 -4.6)">A</text>
<text class="g" transform="matrix(.75 0 0 .46 167.2 0)">G</text><text class="a" transform="matrix(.88 0 0 2.3 167.2 -4.6)">A</text>
</g></g>

<g id="motif-rhar"><rect class="mb" x="345" y="1164" width="247" height="73"/><circle class="mc" cx="388" cy="1174" r="6" fill="#e3262b"/><text class="mt" x="400" y="1178">RhaR-binding site (DeoR family)</text>
<g class="lg" transform="translate(368,1226)"><use href="#ax"/>
<text class="a" transform="matrix(1.07 0 0 .23 0 0)">A</text><text class="t" transform="matrix(1.17 0 0 2.53 0 -2.3)">T</text>
<text class="a" transform="matrix(1.07 0 0 .23 10.7 0)">A</text><text class="t" transform="matrix(1.17 0 0 1.38 10.7 -2.3)">T</text>
<text class="g" transform="matrix(.92 0 0 .23 21.4 0)">G</text>
<text class="a" transform="matrix(1.07 0 0 .23 32.1 0)">A</text><text class="t" transform="matrix(1.17 0 0 2.99 32.1 -2.3)">T</text>
<text class="c" transform="matrix(.99 0 0 .69 42.8 0)">C</text><text class="g" transform="matrix(.92 0 0 1.61 42.8 -6.9)">G</text>
<text class="a" transform="matrix(1.07 0 0 4.5 53.5 0)">A</text>
<text class="t" transform="matrix(1.17 0 0 4.6 64.2 0)">T</text>
<text class="t" transform="matrix(1.17 0 0 .69 74.9 0)">T</text><text class="a" transform="matrix(1.07 0 0 1.61 74.9 -6.9)">A</text>
<text class="t" transform="matrix(1.17 0 0 .69 85.6 0)">T</text><text class="a" transform="matrix(1.07 0 0 1.38 85.6 -6.9)">A</text>
<text class="t" transform="matrix(1.17 0 0 .23 96.3 0)">T</text><text class="a" transform="matrix(1.07 0 0 1.61 96.3 -2.3)">A</text>
<text class="a" transform="matrix(1.07 0 0 .46 107 0)">A</text><text class="t" transform="matrix(1.17 0 0 2.3 107 -4.6)">T</text>
<text class="t" transform="matrix(1.17 0 0 4.6 117.7 0)">T</text>
<text class="t" transform="matrix(1.17 0 0 .92 128.4 0)">T</text><text class="a" transform="matrix(1.07 0 0 1.15 128.4 -9.2)">A</text>
<text class="t" transform="matrix(1.17 0 0 .69 139.1 0)">T</text><text class="a" transform="matrix(1.07 0 0 1.38 139.1 -6.9)">A</text>
<text class="t" transform="matrix(1.17 0 0 4.6 149.8 0)">T</text>
<text class="c" transform="matrix(.99 0 0 .69 160.5 0)">C</text><text class="g" transform="matrix(.92 0 0 1.84 160.5 -6.9)">G</text>
<text class="a" transform="matrix(1.07 0 0 4.5 171.2 0)">A</text>
<text class="c" transform="matrix(.99 0 0 .69 181.9 0)">C</text><text class="t" transform="matrix(1.17 0 0 1.61 181.9 -6.9)">T</text>
<text class="g" transform="matrix(.92 0 0 .46 192.6 0)">G</text><text class="a" transform="matrix(1.07 0 0 2.99 192.6 -4.6)">A</text>
<text class="g" transform="matrix(.92 0 0 .46 203.3 0)">G</text><text class="a" transform="matrix(1.07 0 0 2.76 203.3 -4.6)">A</text>
</g></g>

<g id="motif-galr"><rect class="mb" x="345" y="1248" width="247" height="72"/><circle class="mc" cx="388" cy="1258" r="6" fill="#b9b9e1"/><text class="mt" x="400" y="1262">GalR-binding site (LacI family)</text>
<g class="lg" transform="translate(403,1310)"><use href="#ax"/>
<text class="t" transform="matrix(.96 0 0 .35 0 0)">T</text><text class="a" transform="matrix(.88 0 0 1.15 0 -3.5)">A</text>
<text class="t" transform="matrix(.96 0 0 .23 8.6 0)">T</text><text class="c" transform="matrix(.81 0 0 3.22 8.6 -2.3)">C</text>
<text class="t" transform="matrix(.96 0 0 .23 17.2 0)">T</text><text class="g" transform="matrix(.75 0 0 3.91 17.2 -2.3)">G</text>
<text class="t" transform="matrix(.96 0 0 .46 25.8 0)">T</text><text class="g" transform="matrix(.75 0 0 2.76 25.8 -4.6)">G</text>
<text class="g" transform="matrix(.75 0 0 .69 34.4 0)">G</text><text class="t" transform="matrix(.96 0 0 1.84 34.4 -6.9)">T</text>
<text class="a" transform="matrix(.88 0 0 3.68 43 0)">A</text>
<text class="t" transform="matrix(.96 0 0 .69 51.6 0)">T</text><text class="a" transform="matrix(.88 0 0 1.84 51.6 -6.9)">A</text>
<text class="c" transform="matrix(.81 0 0 4.3 60.2 0)">C</text>
<text class="a" transform="matrix(.88 0 0 .69 68.8 0)">A</text><text class="g" transform="matrix(.75 0 0 2.53 68.8 -6.9)">G</text>
<text class="t" transform="matrix(.96 0 0 4.4 77.4 0)">T</text>
<text class="t" transform="matrix(.96 0 0 4.4 86 0)">T</text>
<text class="c" transform="matrix(.81 0 0 .46 94.6 0)">C</text><text class="t" transform="matrix(.96 0 0 .92 94.6 -4.6)">T</text>
<text class="c" transform="matrix(.81 0 0 .46 103.2 0)">C</text><text class="a" transform="matrix(.88 0 0 1.84 103.2 -4.6)">A</text>
<text class="c" transform="matrix(.81 0 0 4.3 111.8 0)">C</text>
<text class="a" transform="matrix(.88 0 0 .46 120.4 0)">A</text><text class="g" transform="matrix(.75 0 0 1.84 120.4 -4.6)">G</text>
<text class="c" transform="matrix(.81 0 0 .46 129 0)">C</text><text class="t" transform="matrix(.96 0 0 .69 129 -4.6)">T</text>
</g></g>

<!-- Connectors -->
<g id="connectors">
<path class="cn" stroke="#6cc0ec" d="M592,96 H605 M605,66 V216 M605,66 H624 M605,112 H624 M605,168 H624 M605,216 H624"/>
<path class="cn" stroke="#a9d17f" d="M593,137 H599 V266 H624 M599,156 H624 M599,203 H624"/>
<path class="cn" stroke="#f5ee50" d="M592,265 H603 V337 H624 M603,281 H624"/>
<path class="cn" stroke="#231c6e" d="M592,345 H610 V406 H623"/>
<path class="cn" stroke="#151515" d="M592,449 H611 V453 H626"/>
<path class="cn" stroke="#f2a3ab" d="M592,522 H605 M605,468 V586 M605,468 H624 M605,522 H624 M605,586 H624"/>
<path class="cn" stroke="#f0841e" d="M592,618 H606 V645 H624"/>
<path class="cn" stroke="#12934a" d="M592,687 H600 V713 H626"/>
<path class="cn" stroke="#1e90d8" d="M592,757 H609 M609,723 V786 M609,723 H626 M609,786 H626"/>
<path class="cn" stroke="#e0167c" d="M592,842 H609 V874 H624"/>
<path class="cn" stroke="#8c5443" d="M592,952 H624"/>
<path class="cn" stroke="#f7f000" d="M592,1034 H624"/>
<path class="cn" stroke="#8c3a7c" d="M592,1113 H624"/>
<path class="cn" stroke="#e3262b" d="M592,1197 H624"/>
<path class="cn" stroke="#b9b9e1" d="M592,1284 H607 M607,1256 V1313 M607,1256 H624 M607,1313 H624"/>
<g>
<circle cx="624" cy="66" r="3.5" fill="#6cc0ec"/><circle cx="624" cy="112" r="3.5" fill="#6cc0ec"/><circle cx="624" cy="168" r="3.5" fill="#6cc0ec"/><circle cx="624" cy="216" r="3.5" fill="#6cc0ec"/>
<circle cx="624" cy="156" r="3.5" fill="#a9d17f"/><circle cx="624" cy="203" r="3.5" fill="#a9d17f"/><circle cx="624" cy="266" r="3.5" fill="#a9d17f"/>
<circle cx="624" cy="281" r="3.5" fill="#f5ee50"/><circle cx="624" cy="337" r="3.5" fill="#f5ee50"/>
<circle cx="623" cy="406" r="3.5" fill="#231c6e"/>
<circle cx="626" cy="453" r="3.5" fill="#151515"/>
<circle cx="624" cy="468" r="3.5" fill="#f2a3ab"/><circle cx="624" cy="522" r="3.5" fill="#f2a3ab"/><circle cx="624" cy="586" r="3.5" fill="#f2a3ab"/>
<circle cx="624" cy="645" r="3.5" fill="#f0841e"/>
<circle cx="626" cy="713" r="3.5" fill="#12934a"/>
<circle cx="626" cy="723" r="3.5" fill="#1e90d8"/><circle cx="626" cy="786" r="3.5" fill="#1e90d8"/>
<circle cx="624" cy="874" r="3.5" fill="#e0167c"/>
<circle cx="624" cy="952" r="3.5" fill="#8c5443"/>
<circle cx="624" cy="1034" r="3.5" fill="#f7f000"/>
<circle cx="624" cy="1113" r="3.5" fill="#8c3a7c"/>
<circle cx="624" cy="1197" r="3.5" fill="#e3262b"/>
<circle cx="624" cy="1256" r="3.5" fill="#b9b9e1"/><circle cx="624" cy="1313" r="3.5" fill="#b9b9e1"/>
</g>
</g>

<!-- Operons -->
<g id="op-xyla">
<path class="dna" d="M650,63 H753 M788,63 H897"/>
<circle class="bs" cx="662" cy="63" r="5" fill="#6cc0ec"/><use href="#ck" x="662" y="63"/>
<path class="pr" d="M676,56 V35 H694"/>
<polygon class="fy" points="676,56 703,56 711,63 703,70 676,70"/>
<polygon class="fs" points="712,56 739,56 747,63 739,70 712,70"/>
<circle class="bs" cx="803" cy="63" r="5" fill="#6cc0ec"/><use href="#ck" x="803" y="63"/>
<path class="pr" d="M814,56 V35 H832"/>
<polygon class="fr" points="814,56 841,56 849,63 841,70 814,70"/>
<polygon class="fy" points="851,56 877,56 885,63 877,70 851,70"/>
<text class="gl" x="679" y="52" textLength="31" lengthAdjust="spacingAndGlyphs">xylA</text>
<text class="gl" x="713" y="52" font-size="13" textLength="44" lengthAdjust="spacingAndGlyphs">TM1668</text>
<text class="gl" x="818" y="52" textLength="69" lengthAdjust="spacingAndGlyphs">xtpN bgaL</text>
</g>

<g id="op-xylr">
<path class="dna" d="M652,112 H956"/>
<circle class="bs" cx="662" cy="112" r="5" fill="#6cc0ec"/><use href="#ck" x="662" y="112"/>
<path class="pr" d="M676,105 V80 H694"/>
<polygon class="fk" points="676,105 707,105 715,112 707,119 676,119"/>
<polygon class="fy" points="716,105 749,105 757,112 749,119 716,119"/>
<polygon class="fr" points="761,105 785,105 793,112 785,119 761,119"/>
<polygon class="fg" points="795,105 822,105 830,112 822,119 795,119"/>
<polygon class="fr" points="837,105 859,105 867,112 859,119 837,119"/>
<polygon class="fr" points="869,105 892,105 900,112 892,119 869,119"/>
<polygon class="fy" points="904,105 942,105 950,112 942,119 904,119"/>
<text class="gl b" x="680" y="101" textLength="33" lengthAdjust="spacingAndGlyphs">xylR</text>
<text class="gl" x="719" y="101" textLength="223" lengthAdjust="spacingAndGlyphs">adhB xylF xylU xylE xylK xylB</text>
</g>

<g id="op-xlo">
<path class="dna" d="M645,163 H975"/>
<polygon class="fg" points="702,156 655,156 647,163 655,170 702,170"/>
<path class="pr" d="M702,156 V133 H684"/>
<circle class="bs" cx="712" cy="163" r="5" fill="#a9d17f"/>
<circle class="bs" cx="727" cy="163" r="5" fill="#6cc0ec"/><use href="#ck" x="727" y="163"/>
<path class="pr" d="M736,156 V133 H754"/>
<polygon class="fr" points="736,156 756,156 764,163 756,170 736,170"/>
<polygon class="fr" points="765,156 785,156 793,163 785,170 765,170"/>
<polygon class="fr" points="794,156 814,156 822,163 814,170 794,170"/>
<polygon class="fr" points="823,156 843,156 851,163 843,170 823,170"/>
<polygon class="fr" points="853,156 874,156 882,163 874,170 853,170"/>
<polygon class="fy" points="883,156 917,156 925,163 917,170 883,170"/>
<polygon class="fy" points="927,156 961,156 969,163 961,170 927,170"/>
<text class="gl" x="653" y="150" textLength="35" lengthAdjust="spacingAndGlyphs">xynB</text>
<text class="gl" x="748" y="150" textLength="85" lengthAdjust="spacingAndGlyphs">xloEFGKL</text>
<text class="gl" x="883" y="150" textLength="32" lengthAdjust="spacingAndGlyphs">xyl3</text>
<text class="gl" x="932" y="150" textLength="38" lengthAdjust="spacingAndGlyphs">axeA</text>
</g>

<g id="op-xtp">
<path class="dna" d="M642,213 H985"/>
<polygon class="fg" points="685,206 651,206 643,213 651,220 685,220"/>
<polygon class="fg" points="735,206 694,206 686,213 694,220 735,220"/>
<path class="pr" d="M735,206 V183 H717"/>
<circle class="bs" cx="744" cy="213" r="5" fill="#6cc0ec"/><use href="#ck" x="744" y="213"/>
<circle class="bs" cx="760" cy="213" r="5" fill="#a9d17f"/>
<path class="pr" d="M770,206 V183 H788"/>
<polygon class="fr" points="770,206 790,206 798,213 790,220 770,220"/>
<polygon class="fr" points="800,206 820,206 828,213 820,220 800,220"/>
<polygon class="fr" points="830,206 850,206 858,213 850,220 830,220"/>
<polygon class="fr" points="860,206 881,206 889,213 881,220 860,220"/>
<polygon class="fr" points="891,206 912,206 920,213 912,220 891,220"/>
<polygon class="fy" points="929,206 962,206 970,213 962,220 929,220"/>
<text class="gl" x="652" y="202" textLength="81" lengthAdjust="spacingAndGlyphs">cenC xynA</text>
<text class="gl" x="780" y="202" textLength="87" lengthAdjust="spacingAndGlyphs">xtpFGKLE</text>
<text class="gl" x="926" y="202" textLength="38" lengthAdjust="spacingAndGlyphs">aguA</text>
</g>

<g id="op-kdg">
<path class="dna" d="M632,272 H983"/>
<polygon class="fs" points="673,265 645,265 637,272 645,279 673,279"/>
<polygon class="fy" points="705,265 682,265 674,272 682,279 705,279"/>
<path class="pr" d="M705,265 V242 H687"/>
<circle class="bs" cx="716" cy="272" r="5" fill="#a9d17f"/>
<path class="pr" d="M728,265 V242 H746"/>
<polygon class="fk" points="728,265 765,265 773,272 765,279 728,279"/>
<circle class="bs" cx="787" cy="272" r="5" fill="#fff25a"/><use href="#ck" x="787" y="272"/>
<path class="pr" d="M797,265 V242 H815"/>
<polygon class="fy" points="797,265 830,265 838,272 830,279 797,279"/>
<polygon class="fy" points="848,265 882,265 890,272 882,279 848,279"/>
<polygon class="fy" points="891,265 924,265 932,272 924,279 891,279"/>
<polygon class="fy" points="934,265 968,265 976,272 968,279 934,279"/>
<text class="gl glk" x="619" y="262" textLength="84" lengthAdjust="spacingAndGlyphs">TM0063 uxaC</text>
<text class="gl glk b" x="728" y="262" textLength="45" lengthAdjust="spacingAndGlyphs">kdgR</text>
<text class="gl" x="802" y="262" textLength="37" lengthAdjust="spacingAndGlyphs">kdgA</text>
<text class="gl" x="848" y="262" textLength="122" lengthAdjust="spacingAndGlyphs">kdgK uxaB uxaA</text>
</g>

<g id="op-pel">
<path class="dna" d="M637,339 H1073"/>
<polygon class="fr" points="660,332 645,332 637,339 645,346 660,346"/>
<polygon class="fr" points="683,332 669,332 661,339 669,346 683,346"/>
<polygon class="fr" points="702,332 692,332 684,339 692,346 702,346"/>
<path class="pr" d="M702,332 V307 H685"/>
<circle class="bs" cx="709" cy="339" r="5" fill="#fff25a"/><use href="#ck" x="709" y="339"/>
<circle class="bs" cx="724" cy="339" r="5" fill="#fff25a"/><use href="#ck" x="724" y="339"/>
<path class="pr" d="M732,332 V307 H750"/>
<polygon class="fg" points="732,332 759,332 767,339 759,346 732,346"/>
<polygon class="fs" points="771,332 778,332 785,339 778,346 771,346"/>
<polygon class="fs" points="786,332 793,332 800,339 793,346 786,346"/>
<circle class="bs" cx="807" cy="339" r="5" fill="#fff25a"/><use href="#ck" x="807" y="339"/>
<polygon class="fy" points="815,332 834,332 842,339 834,346 815,346"/>
<polygon class="fy" points="843,332 870,332 878,339 870,346 843,346"/>
<polygon class="fy" points="880,332 909,332 917,339 909,346 880,346"/>
<polygon class="fk" points="918,332 949,332 957,339 949,346 918,346"/>
<polygon class="fy" points="959,332 980,332 988,339 980,346 959,346"/>
<polygon class="fy" points="990,332 1008,332 1016,339 1008,346 990,346"/>
<polygon class="fy" points="1018,332 1037,332 1045,339 1037,346 1018,346"/>
<polygon class="fy" points="1046,332 1065,332 1073,339 1065,346 1046,346"/>
<text class="gl" x="637" y="323" textLength="57" lengthAdjust="spacingAndGlyphs">aguEFG</text>
<text class="gl" x="737" y="323" textLength="35" lengthAdjust="spacingAndGlyphs">pelA</text>
<text class="gl glk" x="780" y="323">- -</text>
<text class="gl" x="805" y="323" textLength="108" lengthAdjust="spacingAndGlyphs">aldH pelB gnd</text>
<text class="gl b" x="918" y="323" textLength="40" lengthAdjust="spacingAndGlyphs">uxaR</text>
<text class="gl" x="962" y="323" textLength="110" lengthAdjust="spacingAndGlyphs">uxaED gntEK</text>
</g>

<g id="op-man">
<path class="dna" d="M635,405 H877 M887,405 H1077"/>
<circle class="bs" cx="645" cy="405" r="5" fill="#231c6e"/><use href="#ck" x="645" y="405"/>
<path class="pr" d="M657,398 V375 H675"/>
<polygon class="fr" points="657,398 678,398 686,405 678,412 657,412"/>
<polygon class="fr" points="687,398 707,398 715,405 707,412 687,412"/>
<polygon class="fr" points="717,398 737,398 745,405 737,412 717,412"/>
<polygon class="fr" points="746,398 766,398 774,405 766,412 746,412"/>
<polygon class="fr" points="776,398 795,398 803,405 795,412 776,412"/>
<polygon class="fy" points="805,398 829,398 837,405 829,412 805,412"/>
<polygon class="fy" points="838,398 864,398 872,405 864,412 838,412"/>
<circle class="bs" cx="897" cy="405" r="5" fill="#231c6e"/><use href="#ck" x="897" y="405"/>
<path class="pr" d="M908,398 V375 H926"/>
<polygon class="fg" points="908,398 939,398 947,405 939,412 908,412"/>
<polygon class="fr" points="950,398 979,398 987,405 979,412 950,412"/>
<polygon class="fy" points="989,398 1021,398 1029,405 1021,412 989,412"/>
<polygon class="fk" points="1030,398 1066,398 1077,405 1066,412 1030,412"/>
<text class="gl glk" x="688" y="393" textLength="82" lengthAdjust="spacingAndGlyphs">mtpEFGKL</text>
<text class="gl glk" x="817" y="393" textLength="50" lengthAdjust="spacingAndGlyphs">cel5AB</text>
<text class="gl glk" x="910" y="393" font-size="13" textLength="112" lengthAdjust="spacingAndGlyphs">manB manD manC</text>
<text class="gl glk b" x="1038" y="393" font-size="15" textLength="43" lengthAdjust="spacingAndGlyphs">manR</text>
</g>

<g id="op-glo">
<path class="dna" d="M642,465 H1012"/>
<polygon class="fk" points="699,458 660,458 648,465 660,472 699,472"/>
<path class="pr" d="M699,458 V435 H681"/>
<circle class="bs" cx="712" cy="465" r="5" fill="#151515"/>
<circle class="bs" cx="727" cy="465" r="5" fill="#f2a3ab"/>
<path class="pr" d="M737,458 V435 H755"/>
<polygon class="fr" points="737,458 757,458 765,465 757,472 737,472"/>
<polygon class="fr" points="767,458 787,458 795,465 787,472 767,472"/>
<polygon class="fr" points="798,458 818,458 826,465 818,472 798,472"/>
<polygon class="fr" points="829,458 850,458 858,465 850,472 829,472"/>
<polygon class="fr" points="860,458 881,458 889,465 881,472 860,472"/>
<polygon class="fg" points="890,458 915,458 923,465 915,472 890,472"/>
<polygon class="fy" points="926,458 951,458 959,465 951,472 926,472"/>
<polygon class="fy" points="963,458 987,458 995,465 987,472 963,472"/>
<text class="gl glk b" x="658" y="453" textLength="39" lengthAdjust="spacingAndGlyphs">gloR</text>
<text class="gl glk" x="757" y="453" textLength="86" lengthAdjust="spacingAndGlyphs">gloEFGKL</text>
<text class="gl glk" x="882" y="453" textLength="113" lengthAdjust="spacingAndGlyphs">cel74 fucA fucI</text>
</g>

<g id="op-cel1">
<path class="dna" d="M635,522 H748 M808,522 H1018"/>
<circle class="bs" cx="646" cy="522" r="5" fill="#f2a3ab"/>
<path class="pr" d="M656,515 V492 H674"/>
<polygon class="fy" points="656,515 687,515 695,522 687,529 656,529"/>
<polygon class="fg" points="697,515 730,515 738,522 730,529 697,529"/>
<circle class="bs" cx="815" cy="522" r="5" fill="#f2a3ab"/>
<path class="pr" d="M825,515 V492 H843"/>
<polygon class="fr" points="825,515 845,515 853,522 845,529 825,529"/>
<polygon class="fr" points="855,515 874,515 882,522 874,529 855,529"/>
<polygon class="fr" points="884,515 903,515 911,522 903,529 884,529"/>
<polygon class="fr" points="913,515 932,515 940,522 932,529 913,529"/>
<polygon class="fr" points="942,515 962,515 970,522 962,529 942,529"/>
<polygon class="fk" points="971,515 1007,515 1018,522 1007,529 971,529"/>
<text class="gl" x="660" y="510" textLength="108" lengthAdjust="spacingAndGlyphs">cel12A-cel12B</text>
<text class="gl" x="842" y="510" textLength="81" lengthAdjust="spacingAndGlyphs">celEFGKL</text>
<text class="gl b" x="972" y="510" textLength="35" lengthAdjust="spacingAndGlyphs">celR</text>
</g>

<g id="op-cel2">
<path class="dna" d="M635,586 H715 M745,586 H875 M892,586 H998"/>
<circle class="bs" cx="646" cy="586" r="5" fill="#f2a3ab"/>
<circle class="bs" cx="757" cy="586" r="5" fill="#f2a3ab"/>
<circle class="bs" cx="903" cy="586" r="5" fill="#f2a3ab"/>
<path class="pr" d="M656,579 V557 H674"/>
<path class="pr" d="M767,579 V557 H785"/>
<path class="pr" d="M915,579 V557 H933"/>
<polygon class="fy" points="656,579 690,579 698,586 690,593 656,593"/>
<polygon class="fy" points="767,579 808,579 816,586 808,593 767,593"/>
<polygon class="fy" points="819,579 860,579 868,586 860,593 819,593"/>
<polygon class="fy" points="915,579 945,579 953,586 945,593 915,593"/>
<polygon class="fy" points="955,579 984,579 992,586 984,593 955,593"/>
<text class="gl" x="658" y="575" textLength="35" lengthAdjust="spacingAndGlyphs">celQ</text>
<text class="gl" x="770" y="575" textLength="112" lengthAdjust="spacingAndGlyphs">TM0312-TM0313</text>
<text class="gl" x="917" y="575" textLength="76" lengthAdjust="spacingAndGlyphs">cbpA bglA</text>
</g>

<g id="op-bgl">
<path class="dna" d="M633,646 H993"/>
<circle class="bs" cx="646" cy="646" r="5" fill="#f0841e"/><use href="#ck" x="646" y="646"/>
<path class="pr" d="M655,639 V613 H673"/>
<polygon class="fk" points="655,639 697,639 708,646 697,653 655,653"/>
<polygon class="fr" points="709,639 730,639 738,646 730,653 709,653"/>
<polygon class="fr" points="740,639 761,639 769,646 761,653 740,653"/>
<polygon class="fr" points="771,639 792,639 800,646 792,653 771,653"/>
<polygon class="fr" points="802,639 823,639 831,646 823,653 802,653"/>
<polygon class="fr" points="833,639 854,639 862,646 854,653 833,653"/>
<polygon class="fs" points="863,639 885,639 893,646 885,653 863,653"/>
<polygon class="fy" points="894,639 933,639 941,646 933,653 894,653"/>
<polygon class="fp" points="943,639 980,639 990,646 980,653 943,653"/>
<text class="gl b" x="660" y="634" textLength="38" lengthAdjust="spacingAndGlyphs">bglR</text>
<text class="gl" x="730" y="634" textLength="85" lengthAdjust="spacingAndGlyphs">bglEFGKL</text>
<text class="gl" x="848" y="634" textLength="94" lengthAdjust="spacingAndGlyphs">TM0026 bglB</text>
<text class="gl" x="952" y="634" textLength="36" lengthAdjust="spacingAndGlyphs">lamA</text>
</g>

<g id="op-glu">
<path class="dna" d="M638,717 H933"/>
<circle class="bs" cx="651" cy="717" r="5" fill="#1e90d8"/><use href="#ck" x="651" y="717"/>
<circle class="bs" cx="663" cy="717" r="5" fill="#12934a"/><use href="#ck" x="663" y="717"/>
<path class="pr" d="M671,710 V685 H689"/>
<polygon class="fr" points="671,710 692,710 700,717 692,724 671,724"/>
<polygon class="fr" points="702,710 723,710 731,717 723,724 702,724"/>
<polygon class="fr" points="733,710 754,710 762,717 754,724 733,724"/>
<circle class="bs" cx="773" cy="717" r="5" fill="#12934a"/><use href="#ck" x="773" y="717"/>
<path class="pr" d="M783,710 V685 H801"/>
<polygon class="fr" points="783,710 804,710 812,717 804,724 783,724"/>
<polygon class="fr" points="814,710 835,710 843,717 835,724 814,724"/>
<polygon class="fr" points="845,710 866,710 874,717 866,724 845,724"/>
<polygon class="fk" points="876,710 912,710 924,717 912,724 876,724"/>
<text class="gl" x="682" y="707" textLength="60" lengthAdjust="spacingAndGlyphs">treEFG</text>
<text class="gl" x="794" y="707" textLength="61" lengthAdjust="spacingAndGlyphs">gluEFK</text>
<text class="gl b" x="878" y="707" textLength="37" lengthAdjust="spacingAndGlyphs">gluR</text>
</g>

<g id="op-tre">
<path class="dna" d="M647,786 H762"/>
<circle class="bs" cx="660" cy="786" r="5" fill="#1e90d8"/><use href="#ck" x="660" y="786"/>
<path class="pr" d="M673,779 V755 H691"/>
<polygon class="fy" points="673,779 707,779 715,786 707,793 673,793"/>
<polygon class="fk" points="717,779 746,779 756,786 746,793 717,793"/>
<text class="gl" x="676" y="775" textLength="31" lengthAdjust="spacingAndGlyphs">treT</text>
<text class="gl b" x="718" y="775" textLength="34" lengthAdjust="spacingAndGlyphs">treR</text>
</g>

<g id="op-iol">
<path class="dna" d="M640,873 H897"/>
<circle class="bs" cx="661" cy="873" r="5" fill="#e0167c"/><use href="#ck" x="661" y="873"/>
<path class="pr" d="M670,866 V842 H688"/>
<polygon class="fk" points="670,866 705,866 715,873 705,880 670,880"/>
<polygon class="fy" points="717,866 740,866 748,873 740,880 717,880"/>
<polygon class="fy" points="749,866 774,866 782,873 774,880 749,880"/>
<polygon class="fy" points="783,866 807,866 815,873 807,880 783,880"/>
<polygon class="fy" points="817,866 841,866 849,873 841,880 817,880"/>
<polygon class="fy" points="851,866 875,866 883,873 875,880 851,880"/>
<text class="gl glk b" x="675" y="861" textLength="30" lengthAdjust="spacingAndGlyphs">iolR</text>
<text class="gl glk" x="728" y="861" textLength="45" lengthAdjust="spacingAndGlyphs">iolMN</text>
<text class="gl glk" x="785" y="861" textLength="82" lengthAdjust="spacingAndGlyphs">iolG iolKO</text>
</g>

<g id="op-ara">
<path class="dna" d="M640,951 H1085"/>
<polygon class="fk" points="647,944 673,944 683,951 673,958 647,958"/>
<polygon class="fy" points="725,944 692,944 684,951 692,958 725,958"/>
<path class="pr" d="M725,944 V918 H707"/>
<circle class="bs" cx="735" cy="951" r="5" fill="#8c5443"/>
<circle class="bs" cx="751" cy="951" r="5" fill="#8c5443"/>
<path class="pr" d="M761,944 V918 H779"/>
<polygon class="fr" points="761,944 782,944 790,951 782,958 761,958"/>
<polygon class="fr" points="792,944 812,944 820,951 812,958 792,958"/>
<polygon class="fr" points="823,944 844,944 852,951 844,958 823,958"/>
<circle class="bs" cx="864" cy="951" r="5" fill="#8c5443"/>
<path class="pr" d="M875,944 V918 H893"/>
<polygon class="fy" points="875,944 892,944 900,951 892,958 875,958"/>
<polygon class="fy" points="902,944 927,944 935,951 927,958 902,958"/>
<polygon class="fy" points="937,944 962,944 970,951 962,958 937,958"/>
<polygon class="fy" points="973,944 997,944 1005,951 997,958 973,958"/>
<polygon class="fy" points="1007,944 1032,944 1040,951 1032,958 1007,958"/>
<polygon class="fy" points="1042,944 1067,944 1075,951 1067,958 1042,958"/>
<text class="gl glk b" x="646" y="938" textLength="36" lengthAdjust="spacingAndGlyphs">araR</text>
<text class="gl" x="688" y="938" textLength="34" lengthAdjust="spacingAndGlyphs">araA</text>
<text class="gl" x="773" y="938" textLength="59" lengthAdjust="spacingAndGlyphs">araEFG</text>
<text class="gl" x="852" y="938" textLength="233" lengthAdjust="spacingAndGlyphs">TM0280 abfA araM araD araB araW</text>
</g>

<g id="op-chi">
<path class="dna" d="M643,1034 H943"/>
<circle class="bs" cx="656" cy="1034" r="5" fill="#f7f000"/><use href="#ck" x="656" y="1034"/>
<path class="pr" d="M670,1027 V1002 H688"/>
<polygon class="fk" points="670,1027 707,1027 718,1034 707,1041 670,1041"/>
<polygon class="fy" points="725,1027 758,1027 766,1034 758,1041 725,1041"/>
<polygon class="fr" points="772,1027 793,1027 801,1034 793,1041 772,1041"/>
<polygon class="fr" points="803,1027 824,1027 832,1034 824,1041 803,1041"/>
<polygon class="fr" points="834,1027 856,1027 864,1034 856,1041 834,1041"/>
<polygon class="fy" points="867,1027 890,1027 898,1034 890,1041 867,1041"/>
<polygon class="fy" points="902,1027 926,1027 934,1034 926,1041 902,1041"/>
<text class="gl glk b" x="673" y="1023" textLength="37" lengthAdjust="spacingAndGlyphs">chiR</text>
<text class="gl glk" x="728" y="1023" textLength="37" lengthAdjust="spacingAndGlyphs">cbsA</text>
<text class="gl glk" x="780" y="1023" textLength="62" lengthAdjust="spacingAndGlyphs">chiEFG</text>
<text class="gl glk" x="863" y="1023" textLength="82" lengthAdjust="spacingAndGlyphs">nagB nagA</text>
</g>

<g id="op-rbs">
<path class="dna" d="M638,1113 H1043"/>
<circle class="bs" cx="650" cy="1113" r="5" fill="#8c3a7c"/>
<circle class="bs" cx="661" cy="1113" r="5" fill="#8c3a7c"/>
<path class="pr" d="M671,1106 V1082 H689"/>
<polygon class="fy" points="671,1106 702,1106 710,1113 702,1120 671,1120"/>
<polygon class="fy" points="715,1106 736,1106 744,1113 736,1120 715,1120"/>
<polygon class="fr" points="745,1106 766,1106 774,1113 766,1120 745,1120"/>
<polygon class="fs" points="776,1106 783,1106 790,1113 783,1120 776,1120"/>
<polygon class="fr" points="794,1106 814,1106 822,1113 814,1120 794,1120"/>
<polygon class="fr" points="824,1106 839,1106 847,1113 839,1120 824,1120"/>
<polygon class="fy" points="848,1106 868,1106 876,1113 868,1120 848,1120"/>
<polygon class="fy" points="878,1106 896,1106 904,1113 896,1120 878,1120"/>
<polygon class="fy" points="906,1106 924,1106 932,1113 924,1120 906,1120"/>
<polygon class="fy" points="934,1106 942,1106 950,1113 942,1120 934,1120"/>
<polygon class="fs" points="951,1106 979,1106 987,1113 979,1120 951,1120"/>
<polygon class="fk" points="988,1106 1025,1106 1037,1113 1025,1120 988,1120"/>
<text class="gl" x="673" y="1103" textLength="324" lengthAdjust="spacingAndGlyphs">rbsK rbsD rbsB rbsAC tktAB drlK darATM0950</text>
<text class="gl b" x="1000" y="1103" textLength="38" lengthAdjust="spacingAndGlyphs">rbsR</text>
</g>

<g id="op-rha">
<path class="dna" d="M642,1199 H1093"/>
<polygon class="fy" points="673,1192 653,1192 645,1199 653,1206 673,1206"/>
<polygon class="fy" points="703,1192 682,1192 674,1199 682,1206 703,1206"/>
<polygon class="fr" points="720,1192 711,1192 703,1199 711,1206 720,1206"/>
<polygon class="fr" points="740,1192 729,1192 721,1199 729,1206 740,1206"/>
<polygon class="fr" points="762,1192 749,1192 741,1199 749,1206 762,1206"/>
<polygon class="fr" points="782,1192 771,1192 763,1199 771,1206 782,1206"/>
<polygon class="fr" points="803,1192 791,1192 783,1199 791,1206 803,1206"/>
<path class="pr" d="M803,1192 V1168 H785"/>
<circle class="bs" cx="814" cy="1199" r="5" fill="#e3262b"/>
<polygon class="fy" points="852,1192 832,1192 824,1199 832,1206 852,1206"/>
<polygon class="fk" points="892,1192 866,1192 854,1199 866,1206 892,1206"/>
<path class="pr" d="M892,1192 V1168 H874"/>
<circle class="bs" cx="902" cy="1199" r="5" fill="#e3262b"/>
<path class="pr" d="M912,1192 V1168 H930"/>
<polygon class="fy" points="912,1192 938,1192 946,1199 938,1206 912,1206"/>
<polygon class="fy" points="949,1192 975,1192 983,1199 975,1206 949,1206"/>
<polygon class="fy" points="986,1192 1012,1192 1020,1199 1012,1206 986,1206"/>
<polygon class="fy" points="1023,1192 1049,1192 1057,1199 1049,1206 1023,1206"/>
<polygon class="fy" points="1059,1192 1084,1192 1092,1199 1084,1206 1059,1206"/>
<text class="gl" x="621" y="1187" textLength="86" lengthAdjust="spacingAndGlyphs">TM1061 gusB</text>
<text class="gl" x="723" y="1187" textLength="65" lengthAdjust="spacingAndGlyphs">rtpEFGKL</text>
<text class="gl" x="809" y="1187" textLength="44" lengthAdjust="spacingAndGlyphs">agu4C</text>
<text class="gl b" x="858" y="1187" textLength="32" lengthAdjust="spacingAndGlyphs">rhaR</text>
<text class="gl" x="915" y="1187" textLength="178" lengthAdjust="spacingAndGlyphs">rhaM rhaA rhaD rhaB rhaC</text>
</g>

<g id="op-gan">
<path class="dna" d="M653,1256 H885"/>
<circle class="bs" cx="667" cy="1256" r="5" fill="#b9b9e1"/>
<path class="pr" d="M680,1249 V1225 H698"/>
<polygon class="fr" points="680,1249 702,1249 710,1256 702,1263 680,1263"/>
<polygon class="fr" points="711,1249 733,1249 741,1256 733,1263 711,1263"/>
<polygon class="fr" points="742,1249 764,1249 772,1256 764,1263 742,1263"/>
<polygon class="fg" points="772,1249 810,1249 820,1256 810,1263 772,1263"/>
<polygon class="fk" points="823,1249 859,1249 871,1256 859,1263 823,1263"/>
<text class="gl" x="695" y="1245" textLength="60" lengthAdjust="spacingAndGlyphs">ganEFG</text>
<text class="gl" x="771" y="1245" textLength="39" lengthAdjust="spacingAndGlyphs">ganA</text>
<text class="gl b" x="823" y="1245" textLength="37" lengthAdjust="spacingAndGlyphs">galR</text>
</g>

<g id="op-ltp">
<path class="dna" d="M653,1313 H1002"/>
<circle class="bs" cx="667" cy="1313" r="5" fill="#b9b9e1"/>
<path class="pr" d="M680,1306 V1282 H698"/>
<polygon class="fr" points="680,1306 698,1306 706,1313 698,1320 680,1320"/>
<polygon class="fr" points="707,1306 724,1306 732,1313 724,1320 707,1320"/>
<polygon class="fr" points="733,1306 749,1306 757,1313 749,1320 733,1320"/>
<polygon class="fr" points="758,1306 774,1306 782,1313 774,1320 758,1320"/>
<polygon class="fy" points="785,1306 815,1306 823,1313 815,1320 785,1320"/>
<polygon class="fr" points="826,1306 848,1306 856,1313 848,1320 826,1320"/>
<polygon class="fy" points="858,1306 885,1306 893,1313 885,1320 858,1320"/>
<polygon class="fy" points="895,1306 920,1306 928,1313 920,1320 895,1320"/>
<polygon class="fy" points="930,1306 954,1306 962,1313 954,1320 930,1320"/>
<polygon class="fy" points="963,1306 986,1306 994,1313 986,1320 963,1320"/>
<text class="gl" x="709" y="1304" textLength="64" lengthAdjust="spacingAndGlyphs">ltpEFGK</text>
<text class="gl" x="783" y="1304" textLength="34" lengthAdjust="spacingAndGlyphs">lacA</text>
<text class="gl" x="824" y="1304" textLength="178" lengthAdjust="spacingAndGlyphs">lptL lacZ galA galT galK</text>
</g>

<!-- Differential expression -->
<g id="diff-expression">
<path class="br" d="M1071,35 Q1078,35 1078,42 V120 Q1078,127 1085,127 Q1078,127 1078,134 V213 Q1078,220 1071,220"/>
<path class="br" d="M1071,248 Q1078,248 1078,255 V296 Q1078,303 1085,303 Q1078,303 1078,310 V355 Q1078,362 1071,362"/>
<path class="br" d="M1071,488 Q1078,488 1078,495 V533 Q1078,540 1085,540 Q1078,540 1078,547 V586 Q1078,593 1071,593"/>
<path class="br" d="M1071,689 Q1078,689 1078,696 V740 Q1078,747 1085,747 Q1078,747 1078,754 V799 Q1078,806 1071,806"/>
<path class="br" d="M1071,1233 Q1078,1233 1078,1240 V1271 Q1078,1278 1085,1278 Q1078,1278 1078,1285 V1340"/>
<text class="de" x="1112" y="132">xylose</text>
<text class="de" x="1107" y="309">pectin</text>
<text class="de na" x="1107" y="408">N/A</text>
<text class="de na" x="1107" y="468">N/A</text>
<text class="de" x="1107" y="541">cellobiose</text>
<text class="de" x="1107" y="636">glucose,</text>
<text class="de" x="1107" y="652">cellobiose</text>
<text class="de" x="1107" y="746">glucose,</text>
<text class="de" x="1107" y="761">trehalose</text>
<text class="de na" x="1107" y="877">N/A</text>
<text class="de" x="1107" y="955">arabinose</text>
<text class="de na" x="1107" y="1040">N/A</text>
<text class="de" x="1107" y="1110">ribose,</text>
<text class="de" x="1107" y="1126">xylose</text>
<text class="de" x="1107" y="1200">rhamnose</text>
<text class="de" x="1107" y="1281">galactose</text>
</g>
</svg>
